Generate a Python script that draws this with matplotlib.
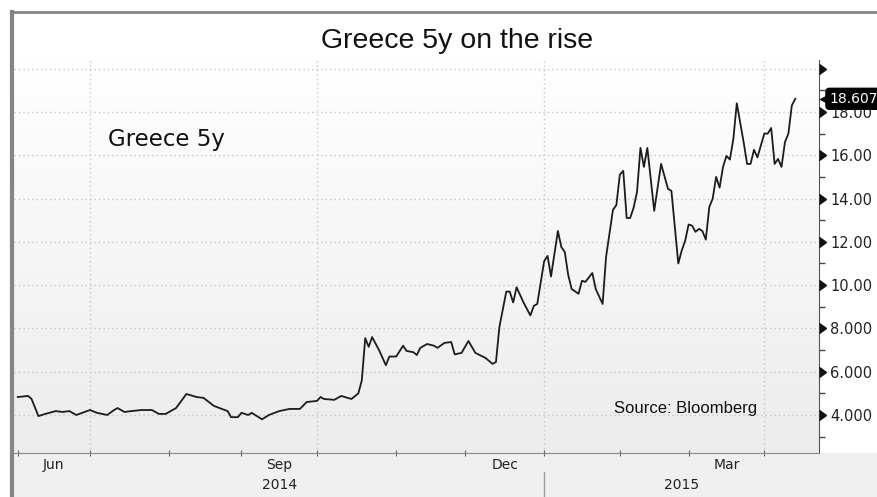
import matplotlib
matplotlib.use("Agg")
import matplotlib.pyplot as plt
import matplotlib.transforms as mtransforms
import numpy as np
import pandas as pd
from matplotlib.colors import LinearSegmentedColormap
from matplotlib.lines import Line2D
from matplotlib.markers import CARETRIGHTBASE
from matplotlib.patches import Rectangle

START = "2014-06-02"

# trading days since START, and Greece 5y yield (%)
bday = [
    0, 3, 4, 6, 8, 11, 13, 15, 17, 21, 23, 26, 28, 29, 31, 33, 36, 39, 41, 43,
    46, 49, 52, 54, 57, 61, 62, 64, 65, 67, 68, 71, 73, 76, 79, 82, 84, 87, 88, 89,
    92, 94, 97, 99, 100, 101, 102, 103, 105, 107, 108, 110, 112, 113, 115, 116, 117, 119, 121, 122,
    124, 126, 127, 129, 131, 133, 136, 138, 139, 140, 142, 143, 144, 145, 147, 149, 150, 151, 153, 154,
    155, 157, 158, 159, 160, 161, 163, 164, 165, 167, 168, 170, 171, 173, 174, 175, 176, 177, 178, 179,
    180, 181, 182, 183, 185, 187, 189, 190, 192, 193, 194, 195, 196, 197, 198, 199, 200, 201, 202, 203,
    204, 205, 206, 207, 208, 209, 211, 212, 213, 214, 215, 217, 218, 219, 220, 221, 222, 223, 224, 225,
    226,
]
yld = [
    4.83, 4.88, 4.74, 3.95, 4.05, 4.18, 4.14, 4.18, 4.00, 4.23, 4.10, 4.00, 4.23, 4.32, 4.14, 4.18, 4.23, 4.23, 4.05, 4.05,
    4.32, 4.97, 4.83, 4.79, 4.42, 4.18, 3.90, 3.90, 4.10, 4.00, 4.10, 3.80, 4.00, 4.18, 4.28, 4.28, 4.60, 4.65, 4.83, 4.74,
    4.70, 4.88, 4.74, 5.00, 5.60, 7.55, 7.15, 7.60, 7.00, 6.30, 6.70, 6.70, 7.20, 6.96, 6.90, 6.77, 7.10, 7.28, 7.20, 7.10,
    7.33, 7.37, 6.80, 6.87, 7.42, 6.87, 6.63, 6.36, 6.45, 8.07, 9.70, 9.70, 9.20, 9.90, 9.20, 8.60, 9.04, 9.13, 11.10, 11.35,
    10.40, 12.50, 11.76, 11.53, 10.47, 9.82, 9.60, 10.20, 10.15, 10.56, 9.82, 9.13, 11.30, 13.47, 13.70, 15.10, 15.28, 13.10, 13.10, 13.57,
    14.30, 16.34, 15.46, 16.34, 13.43, 15.60, 14.45, 14.35, 11.00, 11.60, 12.05, 12.80, 12.75, 12.46, 12.60, 12.50, 12.10, 13.60, 14.00, 15.00,
    14.50, 15.46, 15.97, 15.80, 16.75, 18.40, 16.60, 15.60, 15.60, 16.25, 15.90, 17.00, 17.00, 17.26, 15.60, 15.83, 15.46, 16.60, 17.00, 18.30,
    18.607,
]
last_value = 18.607

y_ticks = [4, 6, 8, 10, 12, 14, 16, 18, 20]
y_minor = [3, 5, 7, 9, 11, 13, 15, 17, 19]
month_labels = ["Jun", "Sep", "Dec", "Mar"]
month_label_keys = [(2014, 6), (2014, 9), (2014, 12), (2015, 3)]
grid_month_keys = [(2014, 7), (2014, 10), (2015, 1), (2015, 4)]
year_labels = ["2014", "2015"]

W, H = 877, 497
X0, X1 = -1.1, 232.9
fig = plt.figure(figsize=(W / 100, H / 100), dpi=100)
fig.patch.set_facecolor("white")

ax = fig.add_axes([14 / W, 1 - 453 / H, (819 - 14) / W, (453 - 60) / H])

# soft vertical gradient inside the plot
bg = LinearSegmentedColormap.from_list("bg", ["#ffffff", "#ececec"])
ax.imshow(np.linspace(0, 1, 256).reshape(-1, 1), cmap=bg, extent=[0, 1, 0, 1],
          transform=ax.transAxes, aspect="auto", origin="upper", zorder=0)
ax.set_xlim(X0, X1)
ax.set_ylim(2.244, 20.40)

# trading-day calendar for ticks
cal = pd.bdate_range(START, periods=260)
keys = list(zip(cal.year, cal.month))
month_start = {}
for i, k in enumerate(keys):
    month_start.setdefault(k, i)
ordered = list(month_start.items())
starts = [i for k, i in ordered]

ax.plot(bday, yld, color="#1c1c1c", lw=1.3, zorder=3, solid_joinstyle="round")

dot = (0, (1, 2.2))
for v in y_ticks:
    ax.axhline(v, color="#c4c8cc", lw=1.0, ls=dot, zorder=1)
for k in grid_month_keys:
    ax.axvline(month_start[k], color="#c4c8cc", lw=1.0, ls=dot, zorder=1)

for s in ["left", "top"]:
    ax.spines[s].set_visible(False)
ax.spines["right"].set_color("#555555")
ax.spines["bottom"].set_color("#888888")

# x axis: month ticks, quarter labels at mid-month, years below
ax.set_xticks([i for i in starts if i < X1])
ax.set_xticklabels([])
ax.tick_params(axis="x", direction="inout", length=5, color="#666666")
xdata_yaxes = mtransforms.blended_transform_factory(ax.transData, ax.transAxes)
for lab, k in zip(month_labels, month_label_keys):
    idx = starts.index(month_start[k])
    nxt = starts[idx + 1]
    ax.text((month_start[k] + nxt) / 2, -0.012, lab, transform=xdata_yaxes,
            ha="center", va="top", fontsize=10, color="#222222")
jan = month_start[(2015, 1)]
ax.text((X0 + jan) / 2, -0.064, year_labels[0], transform=xdata_yaxes,
        ha="center", va="top", fontsize=10, color="#222222")
ax.text((jan + X1) / 2, -0.064, year_labels[1], transform=xdata_yaxes,
        ha="center", va="top", fontsize=10, color="#222222")
ax.plot([jan, jan], [-0.048, -0.115], transform=xdata_yaxes, color="#9a9a9a",
        lw=1, clip_on=False)

# right y axis with caret markers
ax.yaxis.tick_right()
ax.set_yticks(y_ticks)
ax.set_yticklabels([f"{v:.3f}" if v < 10 else f"{v:.2f}" for v in y_ticks[:-1]] + [""])
ax.set_yticks(y_minor, minor=True)
ax.tick_params(axis="y", which="major", length=0, pad=8, labelsize=10.5, labelcolor="#222222")
ax.tick_params(axis="y", which="minor", length=4, width=1, direction="out", color="#444444")
xaxes_ydata = mtransforms.blended_transform_factory(ax.transAxes, ax.transData)
ax.plot(np.ones(len(y_ticks)), y_ticks, transform=xaxes_ydata, ls="none",
        marker=CARETRIGHTBASE, ms=7, color="#111111", clip_on=False, zorder=5)

# last value tag
ax.plot([1.0], [last_value], transform=xaxes_ydata + mtransforms.ScaledTranslation(5 / 72, 0, fig.dpi_scale_trans),
        marker="<", ms=9, color="black", ls="none", clip_on=False, zorder=6)
ax.annotate(f"{last_value:.3f}", xy=(1.0, last_value), xycoords=xaxes_ydata,
            xytext=(7.5, 0), textcoords="offset points", ha="left", va="center",
            color="white", fontsize=10,
            bbox=dict(boxstyle="round,pad=0.25", fc="black", ec="black"),
            annotation_clip=False, zorder=6)

# texts
fig.text(457 / W, 1 - 41 / H, "Greece 5y on the rise", ha="center", va="center",
         fontsize=20.5, family="Liberation Sans", color="#111111")
ax.text(108, 16.75, "Greece 5y", transform=mtransforms.blended_transform_factory(
    mtransforms.IdentityTransform(), ax.transData), fontsize=16.5, va="center",
    color="#111111")
fig.text(614 / W, 1 - 408 / H, "Source: Bloomberg", ha="left", va="center",
         fontsize=12, family="Liberation Sans", color="#111111")

# frame and the lower label band
fig.add_artist(Rectangle((14 / W, 0), 1 - 14 / W, (H - 453) / H, transform=fig.transFigure,
                         facecolor="#f0f0f0", edgecolor="none", zorder=-1))
fig.add_artist(Line2D([12 / W, 12 / W], [0, 1 - 12 / H], color="#858585", lw=3))
fig.add_artist(Line2D([10.5 / W, 1], [1 - 12 / H, 1 - 12 / H], color="#858585", lw=2))

fig.savefig("out.png", dpi=100)
